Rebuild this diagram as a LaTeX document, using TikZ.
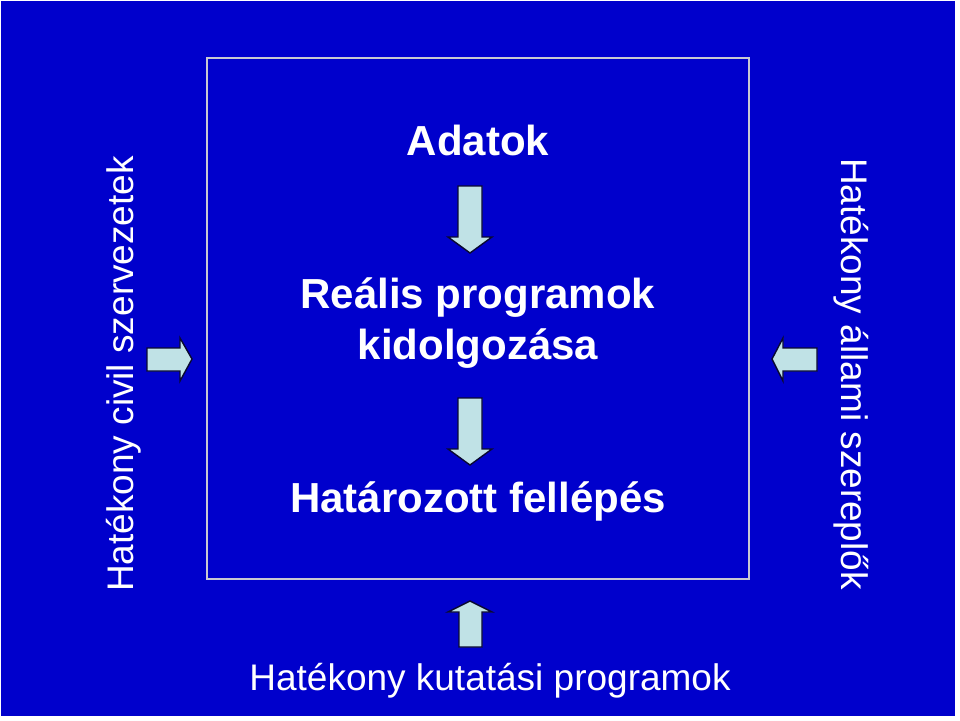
\documentclass[tikz,border=0pt]{standalone}
\usepackage{fontspec}
\setmainfont{Liberation Sans}
\definecolor{bgblue}{RGB}{0,0,204}
\definecolor{arrowfill}{RGB}{192,226,230}
\definecolor{arrowline}{RGB}{10,10,50}
\definecolor{frameline}{RGB}{200,200,210}
\tikzset{
  blockarrow/.style={fill=arrowfill, draw=arrowline, line width=1.4pt, line join=miter},
  bigbold/.style={text=white, font=\fontsize{42}{50}\selectfont\bfseries, inner sep=0pt, align=center},
  sidetext/.style={text=white, font=\fontsize{37}{44}\selectfont, inner sep=0pt},
}
\begin{document}
\begin{tikzpicture}[x=1pt,y=-1pt]
\useasboundingbox (0,0) rectangle (960,720);
\fill[white] (0,0) rectangle (960,720);
\fill[bgblue] (1,1) rectangle (955,716);
\draw[frameline, line width=1.5pt] (207,58) rectangle (749,579);
% texts
\node[bigbold, anchor=base] (adatok) at (478,155) {Adatok};
\node[bigbold, anchor=base] (realis) at (478,308) {Reális programok};
\node[bigbold, anchor=base] (kidolg) at (478,359) {kidolgozása};
\node[bigbold, anchor=base] (hatarozott) at (478,512) {Határozott fellépés};
\node[sidetext, anchor=base] (kutatasi) at (490,690) {Hatékony kutatási programok};
\node[sidetext, anchor=base, rotate=90] (civil) at (133,374) {Hatékony civil szervezetek};
\node[sidetext, anchor=base, rotate=-90] (allami) at (841,374) {Hatékony állami szereplők};
% down arrow 1
\draw[blockarrow] (458,186) -- (482,186) -- (482,237) -- (492,237) -- (470,253) -- (448,237) -- (458,237) -- cycle;
% down arrow 2
\draw[blockarrow] (458,398) -- (482,398) -- (482,449) -- (492,449) -- (470,465) -- (448,449) -- (458,449) -- cycle;
% right arrow (left side)
\draw[blockarrow] (147,348) -- (180,348) -- (180,338) -- (192,359) -- (180,381) -- (180,371) -- (147,371) -- cycle;
% left arrow (right side)
\draw[blockarrow] (817,348) -- (783,348) -- (783,338) -- (772,359) -- (783,381) -- (783,371) -- (817,371) -- cycle;
% up arrow (bottom)
\draw[blockarrow] (459,647) -- (482,647) -- (482,612) -- (492,612) -- (470,601) -- (448,612) -- (459,612) -- cycle;
\end{tikzpicture}
\end{document}
